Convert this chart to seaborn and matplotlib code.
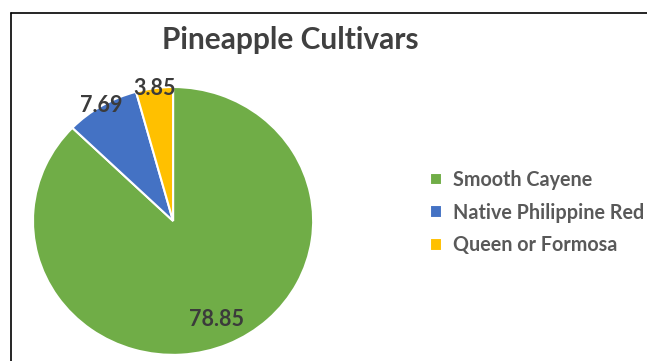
import numpy as np
import matplotlib
matplotlib.use("Agg")
import matplotlib.pyplot as plt
from matplotlib.lines import Line2D
import seaborn as sns

cultivars = ["Smooth Cayene", "Native Philippine Red", "Queen or Formosa"]
shares = [78.85, 7.69, 3.85]
colors = ["#70AD47", "#4472C4", "#FFC000"]
label_dist = [0.80, 1.0, 1.0]

sns.set_theme(style="white")
plt.rcParams["font.family"] = ["Lato", "DejaVu Sans"]

fig = plt.figure(figsize=(6.47, 3.61), dpi=100)
ax = fig.add_axes([0.051, 0.017, 0.433, 0.742])

wedges, _ = ax.pie(shares, colors=colors, startangle=90, counterclock=False,
                   wedgeprops=dict(edgecolor="white", linewidth=1.5))
ax.set_aspect("auto")
ax.set_xlim(-1, 1)
ax.set_ylim(-1, 1)

# value labels, placed along each wedge's mid angle
for w, val, d in zip(wedges, shares, label_dist):
    ang = np.deg2rad((w.theta1 + w.theta2) / 2)
    ax.text(d * np.cos(ang), d * np.sin(ang), f"{val:.2f}", ha="center", va="center",
            fontsize=15.5, fontweight="bold", color="#3b3b3b")

fig.text(0.449, 0.89, "Pineapple Cultivars", ha="center", va="center",
         fontsize=21.5, fontweight="bold", color="#404040")

leg = fig.legend(wedges, cultivars, loc="upper left", bbox_to_anchor=(0.664, 0.529),
                 frameon=False, borderpad=0, borderaxespad=0,
                 handlelength=0.62, handleheight=0.62, handletextpad=0.55,
                 labelspacing=0.64, prop=dict(size=14.2, weight="bold"))
for t in leg.get_texts():
    t.set_color("#595959")

# border around the chart area (partly cropped in the original)
fig.add_artist(Line2D([11 / 647, 1], [1 - 13 / 361, 1 - 13 / 361], color="black", lw=1.2))
fig.add_artist(Line2D([11 / 647, 11 / 647], [0, 1 - 13 / 361], color="black", lw=1.2))

fig.savefig("out.png", dpi=100)
